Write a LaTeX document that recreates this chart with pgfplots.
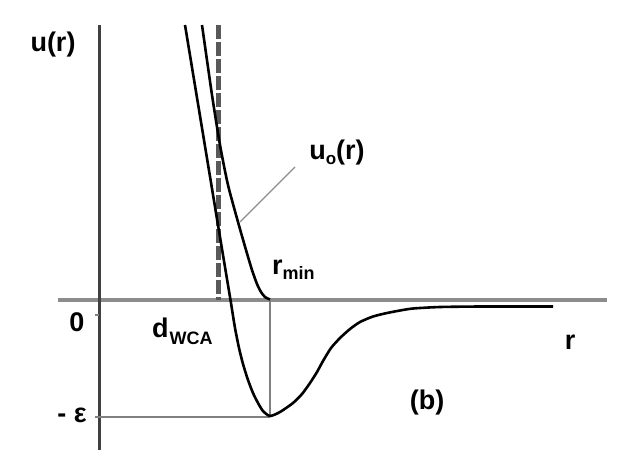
\documentclass[border=0pt]{standalone}
\usepackage{pgfplots}
\pgfplotsset{compat=1.18}
\usepackage{fontspec}
\setmainfont{Liberation Sans}
\tikzset{lab/.style={font=\fontsize{27}{30}\selectfont\bfseries}}
\begin{document}
\begin{tikzpicture}
\begin{axis}[
  scale only axis, width=628pt, height=471pt,
  xmin=0, xmax=628, ymin=0, ymax=471, y dir=reverse,
  axis lines=none, clip=false
]
% zero line
\addplot[color=black!45, line width=3.5pt] coordinates {(58,300) (607,300)};
% vertical axis
\addplot[color=black!75, line width=3pt] coordinates {(99,25) (99,450)};
% ticks
\addplot[color=black!50, line width=1.2pt] coordinates {(95,315) (99,315)};
\addplot[color=black!50, line width=1.2pt] coordinates {(95,417) (99,417)};
% -eps line and rmin line
\addplot[color=black!50, line width=1.5pt] coordinates {(99,417) (270,417)};
\addplot[color=black!50, line width=1.5pt] coordinates {(270,300) (270,417)};
% dashed d_WCA line
\addplot[color=black!65, line width=5pt, dash pattern=on 14pt off 3pt] coordinates {(218,25) (218,300)};
% u(r)
\addplot[black, line width=2.6pt, smooth, tension=0.4] coordinates {
(185,25) (201.5,125) (218,225) (226,273) (230.5,300)
(235,328) (239,348) (243,364) (248,380) (253,393) (258,403) (263,411) (270,416)
(280,412) (293,403) (302,394) (310,383) (317,372) (323,361) (331,348) (340,338)
(350,329) (360,322) (373,316.5) (387,313) (400,310.5) (413,308.5) (440,307)
(480,306.5) (520,306.5) (553,306.5)};
% u0(r)
\addplot[black, line width=2.6pt, smooth, tension=0.4] coordinates {
(202,25) (212,95) (220,145) (228,185) (238,222) (246,250) (252,270) (257,284)
(261,292) (265,297) (270,299.5)};
% leader line
\addplot[color=black!45, line width=1.2pt] coordinates {(295,167) (240,222)};
% labels
\node[lab] at (axis cs:53,45) {u(r)};
\node[lab] at (axis cs:337,153) {u\raisebox{-0.35ex}{\fontsize{17}{19}\selectfont o}(r)};
\node[lab, anchor=base west, inner sep=0pt] at (axis cs:272,274) {r\raisebox{-0.4ex}{\fontsize{18}{20}\selectfont min}};
\node[lab] at (axis cs:77,322) {0};
\node[lab] at (axis cs:72,415) {- ε};
\node[lab, anchor=base west, inner sep=0pt] at (axis cs:152,337) {d\kern1pt\raisebox{-0.5ex}{\fontsize{18}{20}\selectfont WCA}};
\node[lab] at (axis cs:570,342) {r};
\node[lab] at (axis cs:427,403) {(b)};
\end{axis}
\path (current axis.south west) rectangle (current axis.north east);
\end{tikzpicture}
\end{document}
